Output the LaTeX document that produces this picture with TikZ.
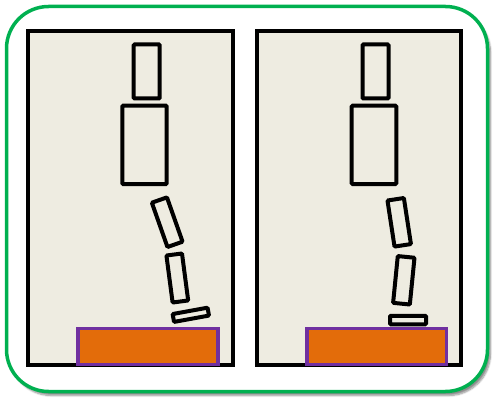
\documentclass[tikz,border=0pt]{standalone}
\usetikzlibrary{shadows.blur}
\definecolor{frameGreen}{HTML}{00B050}
\definecolor{panelBg}{HTML}{EEECE1}
\definecolor{platOrange}{HTML}{E36C0A}
\definecolor{platPurple}{HTML}{7030A0}
\tikzset{
  panel/.style={draw=black, line width=4pt, fill=panelBg, rectangle, inner sep=0pt, outer sep=0pt},
  limb/.style={draw=black, line width=4pt, fill=panelBg, rectangle, rounded corners=1pt, inner sep=0pt, outer sep=0pt},
  platform/.style={draw=platPurple, line width=3.3pt, fill=platOrange, rectangle, inner sep=0pt, outer sep=0pt},
}
\begin{document}
\begin{tikzpicture}[x=1pt,y=-1pt]
\useasboundingbox (0,0) rectangle (504,409);
% outer frame
\node[draw=frameGreen, line width=3.5pt, fill=white, rounded corners=42pt,
      minimum width=481pt, minimum height=385pt, inner sep=0pt, outer sep=0pt,
      blur shadow={shadow xshift=3pt, shadow yshift=-4pt, shadow blur steps=8, shadow blur extra rounding=2pt, shadow opacity=45}]
      (frame) at (247,199) {};
% panels
\node[panel, minimum width=204.7pt, minimum height=333.7pt] (lpanel) at (130.65,197.85) {};
\node[panel, minimum width=204pt, minimum height=333.7pt] (rpanel) at (359.3,197.85) {};
% left figure
\node[limb, minimum width=26pt, minimum height=54pt] (lhead) at (146.7,71.5) {};
\node[limb, minimum width=44.4pt, minimum height=78.3pt] (lbody) at (144.5,144.9) {};
\node[limb, minimum width=16pt, minimum height=47pt, rotate=19.4] (lthigh) at (167.2,222.2) {};
\node[limb, minimum width=15.7pt, minimum height=47.4pt, rotate=7.5] (lshin) at (177.3,278) {};
\node[limb, minimum width=35.5pt, minimum height=8pt, rotate=10.3] (lfoot) at (190.8,314.8) {};
\node[platform, minimum width=140pt, minimum height=36pt] (lplat) at (148,346.35) {};
% right figure
\node[limb, minimum width=26pt, minimum height=54pt] (rhead) at (375.5,71.5) {};
\node[limb, minimum width=44.6pt, minimum height=78.3pt] (rbody) at (374,144.9) {};
\node[limb, minimum width=16.6pt, minimum height=46.6pt, rotate=8.7] (rthigh) at (399.2,222.3) {};
\node[limb, minimum width=16.8pt, minimum height=47pt, rotate=-5.7] (rshin) at (403.8,280.3) {};
\node[limb, minimum width=36pt, minimum height=8.5pt] (rfoot) at (408,320) {};
\node[platform, minimum width=139.6pt, minimum height=36pt] (rplat) at (376.8,346.35) {};
\end{tikzpicture}
\end{document}
